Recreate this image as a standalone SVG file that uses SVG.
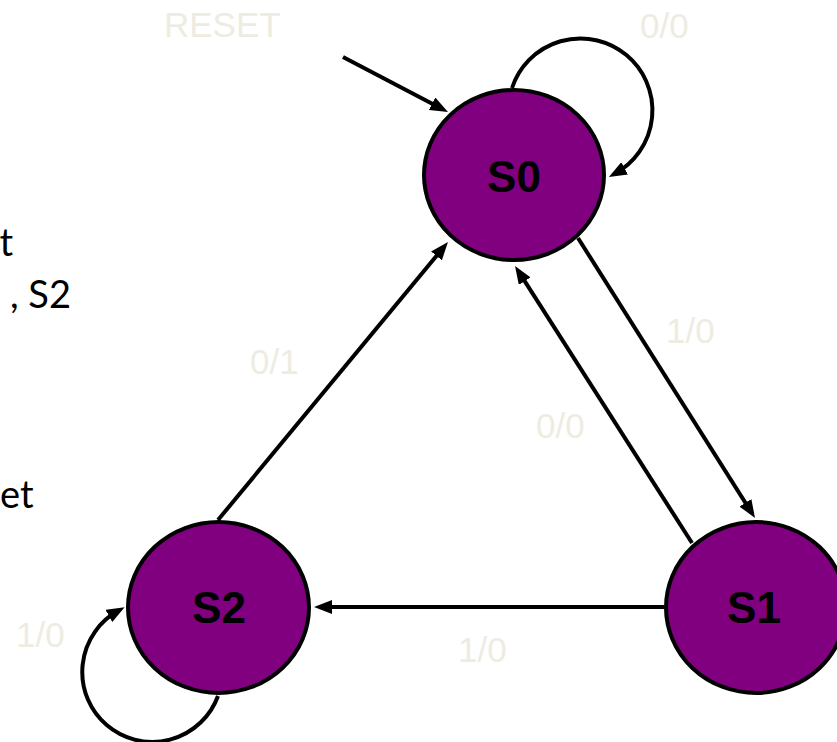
<svg xmlns="http://www.w3.org/2000/svg" width="837" height="742" viewBox="0 0 837 742">
  <style>
    .node ellipse { fill: #800080; stroke: #000; stroke-width: 4; }
    .node text { font-family: "Liberation Sans", Arial, sans-serif; font-weight: bold; font-size: 44px; fill: #000; text-anchor: middle; }
    .edge { fill: none; stroke: #000; stroke-width: 4; marker-end: url(#arrow); }
    .lbl { font-family: "Liberation Sans", Arial, sans-serif; font-size: 35px; fill: #EEECE1; }
    .side { font-family: Lato, "Open Sans", sans-serif; font-size: 38px; fill: #000; }
  </style>
  <defs>
    <marker id="arrow" markerUnits="userSpaceOnUse" markerWidth="18" markerHeight="14" refX="11" refY="7" orient="auto">
      <path d="M0,0 L18,7 L0,14 z" fill="#000"/>
    </marker>
  </defs>
  <rect width="837" height="742" fill="#fff"/>

  <g id="side-text">
    <text class="side" x="13" y="256" text-anchor="end">t</text>
    <text class="side" x="71" y="308" text-anchor="end">, S2</text>
    <text class="side" x="0" y="508">et</text>
  </g>

  <g id="connectors">
    <path class="edge" d="M343,57 L441.8,108.8"/>
    <path class="edge" d="M512,88 A72,72 0 1 1 615,173.6"/>
    <path class="edge" d="M578,238 L751.3,512.1"/>
    <path class="edge" d="M692,543 L518.8,271.9"/>
    <path class="edge" d="M218,520 L443.5,247.4"/>
    <path class="edge" d="M664,607 L321,607"/>
    <path class="edge" d="M218,696 A70,70 0 1 1 118.5,610.6"/>
  </g>

  <g id="labels">
    <text class="lbl" x="164" y="37">RESET</text>
    <text class="lbl" x="640" y="38">0/0</text>
    <text class="lbl" x="666" y="343">1/0</text>
    <text class="lbl" x="250" y="374">0/1</text>
    <text class="lbl" x="536" y="438">0/0</text>
    <text class="lbl" x="16" y="647">1/0</text>
    <text class="lbl" x="458" y="662">1/0</text>
  </g>

  <g id="S0" class="node">
    <ellipse cx="514" cy="175" rx="90" ry="85"/>
    <text x="514" y="192">S0</text>
  </g>
  <g id="S1" class="node">
    <ellipse cx="756" cy="607.5" rx="90" ry="85.5"/>
    <text x="754" y="623">S1</text>
  </g>
  <g id="S2" class="node">
    <ellipse cx="218.5" cy="607.5" rx="90.5" ry="85.5"/>
    <text x="219" y="623">S2</text>
  </g>
</svg>
